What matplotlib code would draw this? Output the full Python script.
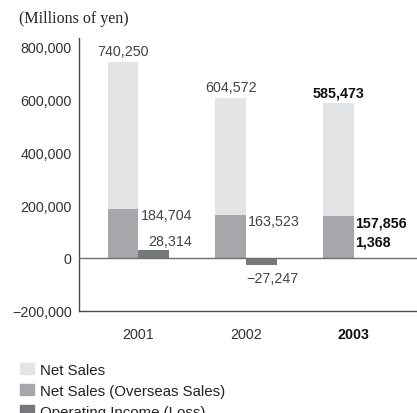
import matplotlib
matplotlib.use('Agg')

from matplotlib import pyplot as plt
from matplotlib.patches import Patch

plt.rcParams['font.family'] = ['Liberation Sans', 'DejaVu Sans']

years = ['2001', '2002', '2003']
net_sales = [740250, 604572, 585473]
overseas_sales = [184704, 163523, 157856]
operating_income = [28314, -27247, 1368]

c_net = '#e3e4e6'
c_over = '#a6a7aa'
c_oper = '#77787b'
c_axis = '#4a4a4a'

# how the operating income label lines up under the overseas label
op_align = ['right', 'left', 'left']


def fmt(v):
    s = '{:,}'.format(abs(v))
    return '\u2212' + s if v < 0 else s


fig = plt.figure(figsize=(4.17, 4.14), dpi=100)
ax = fig.add_axes([0.189, 0.247, 0.811, 0.659])

w = 0.285
xs = list(range(len(years)))
left = [x - w / 2 for x in xs]
right = [x + w / 2 for x in xs]

ax.bar(left, net_sales, w, color=c_net, zorder=2)
ax.bar(left, overseas_sales, w, color=c_over, zorder=3)
ax.bar(right, operating_income, w, color=c_oper, zorder=3)
ax.axhline(0, color='#6e6e6e', lw=1.0, zorder=4)

ax.set_xlim(-0.553, 2.59)
ax.set_ylim(-200000, 833000)

for sp in ['top', 'right']:
    ax.spines[sp].set_visible(False)
for sp in ['left', 'bottom']:
    ax.spines[sp].set_color(c_axis)
    ax.spines[sp].set_linewidth(1.0)

yt = [-200000, 0, 200000, 400000, 600000, 800000]
ax.set_yticks(yt)
ax.set_yticklabels([fmt(v) for v in yt], fontsize=10.3, color='#333333')
ax.set_xticks(xs)
ax.set_xticklabels(years, fontsize=10.3, color='#333333')
ax.get_xticklabels()[-1].set_fontweight('bold')
ax.get_xticklabels()[-1].set_color('#111111')
ax.tick_params(length=0)
ax.tick_params(axis='y', pad=5)
ax.tick_params(axis='x', pad=12)

for i in xs:
    weight = 'bold' if i == len(years) - 1 else 'normal'
    tc = '#111111' if weight == 'bold' else '#444444'
    ax.annotate(fmt(net_sales[i]), (left[i], net_sales[i]),
                xytext=(0, 3), textcoords='offset points',
                ha='center', va='bottom', fontsize=10.3, fontweight=weight, color=tc)
    t_over = ax.annotate(fmt(overseas_sales[i]), (i, overseas_sales[i]),
                         xytext=(1.5, -4.5), textcoords='offset points',
                         ha='left', va='center', fontsize=10.3, fontweight=weight, color=tc)
    if operating_income[i] >= 0:
        ha = op_align[i]
        fx = 1 if ha == 'right' else 0
        ax.annotate(fmt(operating_income[i]), (fx, 0), xycoords=(t_over, 'data'),
                    xytext=(0, 12), textcoords='offset points',
                    ha=ha, va='center', fontsize=10.3, fontweight=weight, color=tc)
    else:
        ax.annotate(fmt(operating_income[i]), (i, operating_income[i]),
                    xytext=(0.5, -4), textcoords='offset points',
                    ha='left', va='top', fontsize=10.3, fontweight=weight, color=tc)

fig.text(0.046, 0.953, '(Millions of yen)', family='Liberation Serif',
         fontsize=11.5, color='#222222', va='center', ha='left')

handles = [Patch(color=c_net), Patch(color=c_over), Patch(color=c_oper)]
labels = ['Net Sales', 'Net Sales (Overseas Sales)', 'Operating Income (Loss)']
fig.legend(handles, labels, loc='upper left', bbox_to_anchor=(0.03, 0.14),
           frameon=False, fontsize=10.8, handlelength=0.9, handleheight=0.7,
           handletextpad=0.45, labelspacing=0.48, borderpad=0, labelcolor='#222222')

fig.savefig('out.png', dpi=100)
